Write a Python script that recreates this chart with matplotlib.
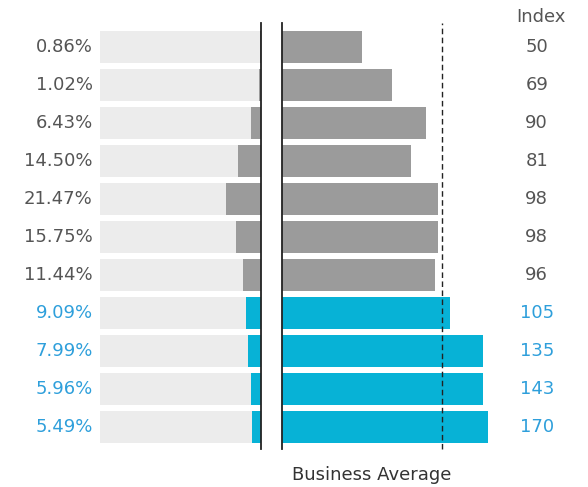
import matplotlib
matplotlib.use('Agg')
import matplotlib.pyplot as plt

# values
share_pct = [0.86, 1.02, 6.43, 14.50, 21.47, 15.75, 11.44, 9.09, 7.99, 5.96, 5.49]
index_vals = [50, 69, 90, 81, 98, 98, 96, 105, 135, 143, 170]
# drawn bar lengths (the long bars are squeezed in the reference)
index_bars = [50, 69, 90, 81, 98, 98, 96, 105, 126, 126, 129]
share_labels = [f'{v:.2f}%' for v in share_pct]

GREY_BG = '#ECECEC'
GREY_BAR = '#9B9B9B'
CYAN_BAR = '#07B2D6'
TXT = '#555555'
BLUE_TXT = '#2E9FDB'

W, H = 588, 487
fig = plt.figure(figsize=(W / 100, H / 100), dpi=100, facecolor='white')

top_px, bot_px = 23, 449
ax_bottom = (H - bot_px) / H
ax_height = (bot_px - top_px) / H

ax_l = fig.add_axes([100 / W, ax_bottom, 161 / W, ax_height])
ax_r = fig.add_axes([281.5 / W, ax_bottom, 240 / W, ax_height])

rows = list(range(len(share_pct)))
hl = [v > 100 for v in index_vals]
bar_cols = [CYAN_BAR if h else GREY_BAR for h in hl]
txt_cols = [BLUE_TXT if h else TXT for h in hl]

# left panel: share of base, growing leftwards from the divider
ax_l.barh(rows, [100] * len(rows), height=0.83, color=GREY_BG)
ax_l.barh(rows, share_pct, height=0.83, color=bar_cols)
ax_l.set_xlim(100, 0)
ax_l.axvline(0, color='#222222', lw=1.3, clip_on=False)

for r, lab, c in zip(rows, share_labels, txt_cols):
    ax_l.text(104.5, r, lab, ha='right', va='center', fontsize=13,
              color=c, clip_on=False)

# right panel: index vs business average
ax_r.barh(rows, index_bars, height=0.83, color=bar_cols)
ax_r.set_xlim(0, 150)
ax_r.axvline(0, color='#222222', lw=1.3, clip_on=False)
ax_r.axvline(100, color='#222222', lw=1, linestyle=(0, (4, 2.5)), clip_on=False)

for r, v, c in zip(rows, index_vals, txt_cols):
    ax_r.text(159.5, r, str(v), ha='center', va='center', fontsize=13,
              color=c, clip_on=False)

ax_r.text(162.4, -0.78, 'Index', ha='center', va='center', fontsize=13,
          color=TXT, clip_on=False)
ax_r.text(56.6, 11.27, 'Business Average', ha='center', va='center',
          fontsize=13, color='#333333', clip_on=False)

for ax in (ax_l, ax_r):
    ax.set_ylim(10.584, -0.626)
    ax.axis('off')

fig.savefig('out.png', dpi=100, facecolor='white')
